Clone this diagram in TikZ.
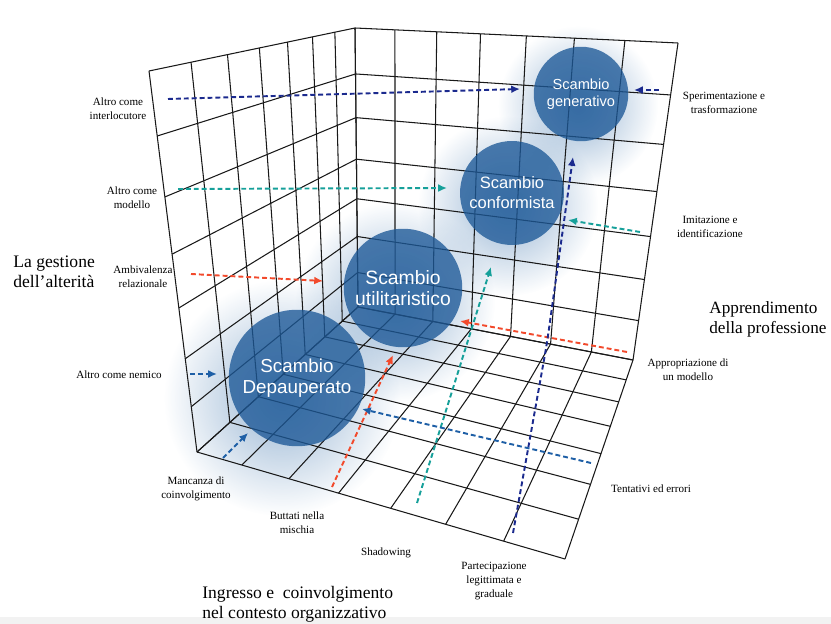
\documentclass[tikz,border=0pt]{standalone}
\usepackage{fontspec}
\setmainfont{Liberation Serif}
\newfontfamily\bubblefont{Liberation Sans}
\usetikzlibrary{arrows.meta,calc,fadings}

\definecolor{navyflow}{HTML}{1B2A8E}
\definecolor{tealflow}{HTML}{16A09A}
\definecolor{redflow}{HTML}{F24A2C}
\definecolor{blueflow}{HTML}{1E5FA6}
\definecolor{bubblecol}{HTML}{1C5897}
\definecolor{glowcol}{HTML}{3F76AE}

\tikzfading[name=halo, inner color=transparent!45, outer color=transparent!100]

% one family of grid lines on a face: from edge #1-#2 to edge #4-#5,
% #3 and #6 give the perspective shrink along each edge
\newcommand\gridlines[6]{%
  \foreach \i in {0,...,7}{
    \pgfmathsetmacro\sa{(\i/7)/((\i/7)+#3*(1-\i/7))}
    \pgfmathsetmacro\sb{(\i/7)/((\i/7)+#6*(1-\i/7))}
    \draw[gridline] ($(#1)!\sa!(#2)$) -- ($(#4)!\sb!(#5)$);
  }}

\begin{document}
\begin{tikzpicture}[x=0.02cm, y=-0.02cm,
  gridline/.style={draw=black!90, line width=0.6pt},
  bubble/.style={circle, fill=bubblecol, fill opacity=0.78, text opacity=1,
    text=white, align=center, inner sep=0pt, font=\bubblefont},
  flow/.style={line width=1.1pt, dash pattern=on 2.8pt off 1.7pt,
    -{Latex[length=5pt,width=4.5pt]}},
  lab/.style={align=center, font=\fontsize{6.3}{7.9}\selectfont},
  axis/.style={align=left, anchor=west, inner sep=0pt,
    font=\fontsize{10}{11.3}\selectfont}]
 \useasboundingbox (0,0) rectangle (831,624);
 \fill[black!5] (0,617) rectangle (831,624);

 % corners of the three faces
 \coordinate (tl) at (149,71);
 \coordinate (tb) at (355,28);
 \coordinate (tr) at (678,43);
 \coordinate (bc) at (358,307);
 \coordinate (fl) at (197,452);
 \coordinate (fr) at (633,360);
 \coordinate (ff) at (565,559);

 % soft glow under the bubbles
 \fill[glowcol, path fading=halo] (282,398) circle (118);
 \fill[glowcol, path fading=halo] (395,302) circle (100);
 \fill[glowcol, path fading=halo] (508,206) circle (90);
 \fill[glowcol, path fading=halo] (578,106) circle (80);

 % left wall, right wall, floor
 \gridlines{tl}{tb}{0.65}{fl}{bc}{0.65}
 \gridlines{tl}{fl}{0.81}{tb}{bc}{0.845}
 \gridlines{tb}{tr}{1.18}{bc}{fr}{1.07}
 \gridlines{tb}{bc}{0.845}{tr}{fr}{0.85}
 \gridlines{bc}{fr}{1.07}{fl}{ff}{1.2}
 \gridlines{bc}{fl}{1.54}{fr}{ff}{1.5}

 \node[bubble, minimum size=2.73cm, font=\bubblefont\fontsize{10.7}{12.3}\selectfont]
   (dep) at (297,378) {Scambio\\Depauperato};
 \node[bubble, minimum size=2.37cm, font=\bubblefont\fontsize{11}{12.3}\selectfont]
   (uti) at (403,288) {Scambio\\utilitaristico};
 \node[bubble, minimum size=2.08cm, font=\bubblefont\fontsize{9.4}{11.3}\selectfont]
   (con) at (512,193) {Scambio\\conformista};
 \node[bubble, minimum size=1.89cm, font=\bubblefont\fontsize{8.3}{9.4}\selectfont]
   (gen) at (581,94) {Scambio\\generativo};

 % arrow ends
 \coordinate (interl0) at (168,99);  \coordinate (interl1) at (520,89);
 \coordinate (sperim0) at (659,90);  \coordinate (sperim1) at (634,90);
 \coordinate (model0) at (178,189);  \coordinate (model1) at (447,188);
 \coordinate (imit0) at (640,232);   \coordinate (imit1) at (568,220);
 \coordinate (ambiv0) at (191,274);  \coordinate (ambiv1) at (323,281);
 \coordinate (approp0) at (627,352); \coordinate (approp1) at (460,321);
 \coordinate (nemico0) at (190,374); \coordinate (nemico1) at (217,374);
 \coordinate (manc0) at (223,458);   \coordinate (manc1) at (248,433);
 \coordinate (butt0) at (332,487);   \coordinate (butt1) at (393,355);
 \coordinate (shad0) at (417,503);   \coordinate (shad1) at (491,267);
 \coordinate (part0) at (513,533);   \coordinate (partbend) at (547,343);
 \coordinate (part1) at (573,157);
 \coordinate (tent0) at (591,463);   \coordinate (tent1) at (362,409);

 \draw[flow, navyflow] (interl0) -- (interl1);
 \draw[flow, navyflow] (sperim0) -- (sperim1);
 \draw[flow, tealflow] (model0) -- (model1);
 \draw[flow, tealflow] (imit0) -- (imit1);
 \draw[flow, redflow] (ambiv0) -- (ambiv1);
 \draw[flow, redflow] (approp0) -- (approp1);
 \draw[flow, blueflow] (nemico0) -- (nemico1);
 \draw[flow, blueflow] (manc0) -- (manc1);
 \draw[flow, redflow] (butt0) -- (butt1);
 \draw[flow, tealflow] (shad0) -- (shad1);
 \draw[flow, navyflow, rounded corners=8pt] (part0) -- (partbend) -- (part1);
 \draw[flow, blueflow] (tent0) -- (tent1);

 \node[lab] (interl) at (118,109) {Altro come\\interlocutore};
 \node[lab] (model) at (132,198) {Altro come\\modello};
 \node[lab] (ambiv) at (143,277) {Ambivalenza\\relazionale};
 \node[lab] (nemico) at (119,375) {Altro come nemico};
 \node[lab] (manc) at (196,489) {Mancanza di\\coinvolgimento};
 \node[lab] (butt) at (297,523) {Buttati nella\\mischia};
 \node[lab] (shad) at (386,553) {Shadowing};
 \node[lab] (part) at (494,581) {Partecipazione\\legittimata e\\graduale};
 \node[lab] (tent) at (651,489) {Tentativi ed errori};
 \node[lab] (approp) at (688,370) {Appropriazione di\\un modello};
 \node[lab] (imit) at (710,227) {Imitazione e\\identificazione};
 \node[lab] (sperim) at (724,103) {Sperimentazione e\\trasformazione};

 \node[axis] (alter) at (13,272) {La gestione\\dell’alterità};
 \node[axis, font=\fontsize{9.8}{11.3}\selectfont] (prof) at (709,319)
   {Apprendimento\\della professione};
 \node[axis] (ingr) at (202,604) {Ingresso e\ \ coinvolgimento\\nel contesto organizzativo};
\end{tikzpicture}
\end{document}
